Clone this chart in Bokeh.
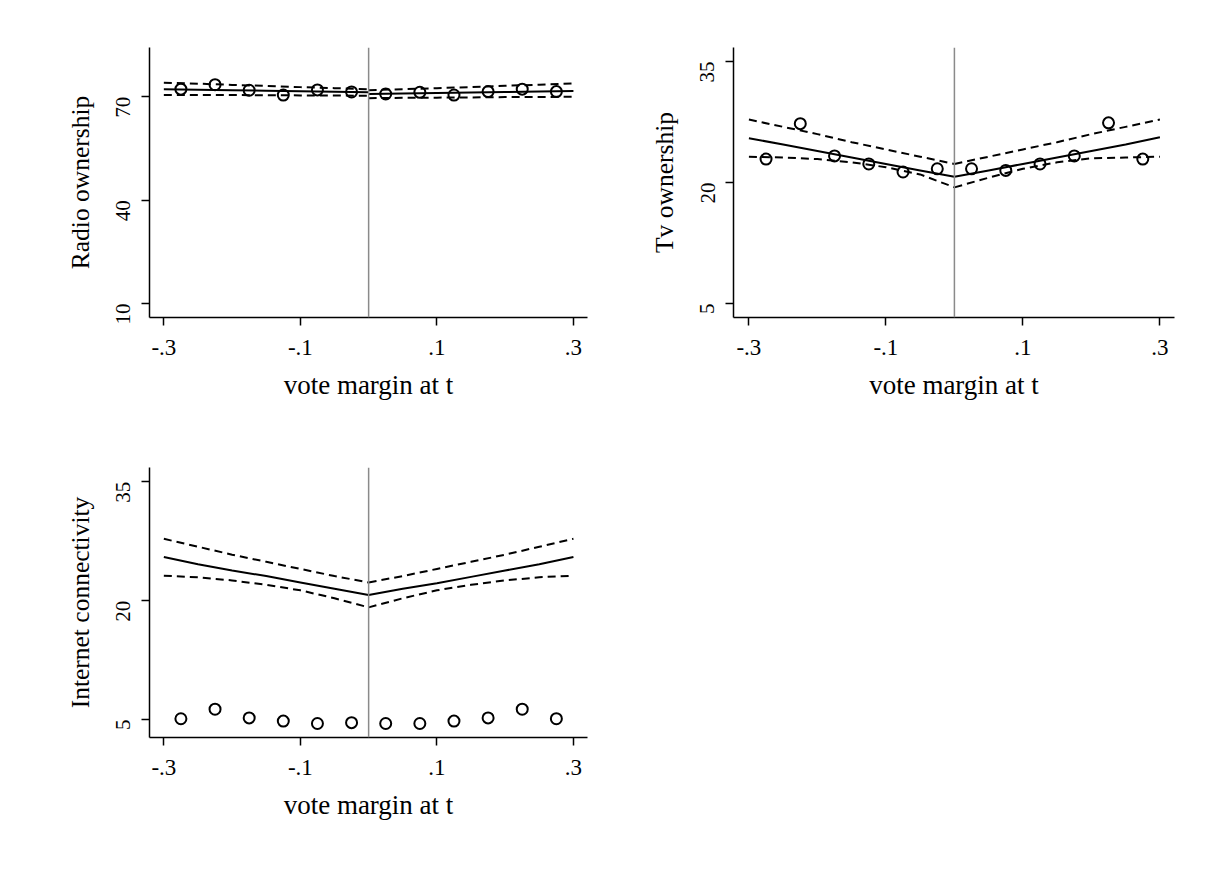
import math
from bokeh.plotting import figure
from bokeh.models import Range1d, FixedTicker, Span, Spacer
from bokeh.layouts import column, row
from bokeh.embed import file_html
from bokeh.resources import INLINE

# ---------------- data ----------------
BINS = [-0.275, -0.225, -0.175, -0.125, -0.075, -0.025, 0.025, 0.075, 0.125, 0.175, 0.225, 0.275]
RADIO_MEANS = [72.2, 73.5, 71.9, 70.5, 72.0, 71.4, 70.8, 71.3, 70.5, 71.5, 72.2, 71.5]
TV_MEANS = [22.9, 27.3, 23.3, 22.3, 21.3, 21.7, 21.7, 21.5, 22.3, 23.3, 27.4, 22.9]
NET_MEANS = [5.1, 6.3, 5.2, 4.8, 4.5, 4.6, 4.5, 4.5, 4.8, 5.2, 6.3, 5.1]

GRID_L = [-0.3, -0.25, -0.2, -0.15, -0.1, -0.05, 0.0]
GRID_R = [0.0, 0.05, 0.1, 0.15, 0.2, 0.25, 0.3]
CUTOFF = 0.0

RADIO_FIT_L = [72.2, 72.05, 71.9, 71.75, 71.6, 71.45, 71.3]
RADIO_HI_L = [74.1, 73.8, 73.45, 73.15, 72.8, 72.5, 72.2]
RADIO_LO_L = [70.5, 70.5, 70.5, 70.45, 70.4, 70.35, 70.3]
RADIO_FIT_R = [70.8, 70.95, 71.1, 71.25, 71.4, 71.55, 71.7]
RADIO_HI_R = [71.9, 72.2, 72.5, 72.8, 73.2, 73.5, 73.9]
RADIO_LO_R = [69.6, 69.7, 69.75, 69.8, 69.9, 69.95, 70.0]

TV_FIT_L = [25.5, 24.7, 23.9, 23.1, 22.3, 21.5, 20.7]
TV_HI_L = [27.8, 26.9, 26.0, 25.0, 24.1, 23.2, 22.3]
TV_LO_L = [23.2, 23.1, 22.9, 22.5, 21.9, 21.0, 19.4]
TV_FIT_R = [20.7, 21.5, 22.3, 23.1, 23.9, 24.7, 25.6]
TV_HI_R = [22.3, 23.2, 24.1, 25.0, 26.0, 26.9, 27.8]
TV_LO_R = [19.4, 20.6, 21.7, 22.5, 23.0, 23.1, 23.2]

NET_FIT_L = [25.5, 24.6, 23.8, 23.1, 22.3, 21.5, 20.7]
NET_HI_L = [27.8, 26.8, 25.8, 24.9, 24.0, 23.1, 22.3]
NET_LO_L = [23.15, 22.95, 22.55, 22.0, 21.3, 20.3, 19.15]
NET_FIT_R = [20.7, 21.5, 22.2, 23.0, 23.8, 24.6, 25.5]
NET_HI_R = [22.3, 23.1, 24.0, 24.9, 25.8, 26.8, 27.8]
NET_LO_R = [19.15, 20.3, 21.3, 22.0, 22.55, 22.95, 23.15]

X_TICKS = [-0.3, -0.1, 0.1, 0.3]
X_TICK_LABELS = ["-.3", "-.1", ".1", ".3"]
RADIO_TICKS = [10, 40, 70]
SHARE_TICKS = [5, 20, 35]
X_TITLE = "vote margin at t"

FONT = "Liberation Serif"


def make_panel(width, height, bl, bt, br, bb, xr, yr, yticks, ytitle,
               means, fl, hl, ll, fr, hr, lr):
    p = figure(width=width, height=height, output_backend="svg", toolbar_location=None,
               x_range=Range1d(*xr), y_range=Range1d(*yr),
               min_border_left=bl, min_border_top=bt, min_border_right=br, min_border_bottom=bb)
    p.outline_line_color = None
    p.xgrid.visible = False
    p.ygrid.visible = False
    p.background_fill_color = "white"
    p.border_fill_color = "white"

    p.add_layout(Span(location=CUTOFF, dimension="height", line_color="#8a8a8a", line_width=1.5))

    dash = "8 5"
    for gx, ys in ((GRID_L, hl), (GRID_L, ll), (GRID_R, hr), (GRID_R, lr)):
        p.line(gx, ys, line_color="black", line_width=2, line_dash=dash)
    p.line(GRID_L, fl, line_color="black", line_width=2)
    p.line(GRID_R, fr, line_color="black", line_width=2)
    p.scatter(BINS, means, marker="circle", size=11, fill_color=None,
              line_color="black", line_width=2)

    xa = p.xaxis[0]
    xa.ticker = FixedTicker(ticks=X_TICKS)
    xa.major_label_overrides = {t: l for t, l in zip(X_TICKS, X_TICK_LABELS)}
    xa.axis_label = X_TITLE
    ya = p.yaxis[0]
    ya.ticker = FixedTicker(ticks=yticks)
    ya.axis_label = ytitle
    ya.major_label_orientation = math.pi / 2

    for ax in (xa, ya):
        ax.minor_tick_line_color = None
        ax.axis_line_color = "black"
        ax.axis_line_width = 1.5
        ax.major_tick_line_color = "black"
        ax.major_tick_line_width = 1.5
        ax.major_tick_out = 8
        ax.major_tick_in = 0
        ax.major_label_text_font = FONT
        ax.axis_label_text_font = FONT
        ax.axis_label_text_font_style = "normal"
        ax.major_label_text_color = "black"
        ax.axis_label_text_color = "black"
    xa.major_label_text_font_size = "23px"
    xa.axis_label_text_font_size = "27px"
    xa.major_label_standoff = 14
    xa.axis_label_standoff = 12
    ya.major_label_text_font_size = "21px"
    ya.axis_label_text_font_size = "25.5px"
    ya.major_label_standoff = 18
    ya.axis_label_standoff = 12
    return p


p1 = make_panel(600, 410, 149, 47, 13, 93, (-0.321, 0.3206), (5.94, 84.3),
                RADIO_TICKS, "Radio ownership", RADIO_MEANS,
                RADIO_FIT_L, RADIO_HI_L, RADIO_LO_L, RADIO_FIT_R, RADIO_HI_R, RADIO_LO_R)
p2 = make_panel(584, 410, 133, 47, 10, 93, (-0.3225, 0.3213), (3.26, 36.74),
                SHARE_TICKS, "Tv ownership", TV_MEANS,
                TV_FIT_L, TV_HI_L, TV_LO_L, TV_FIT_R, TV_HI_R, TV_LO_R)
p3 = make_panel(600, 420, 149, 57, 13, 93, (-0.321, 0.3206), (2.73, 36.8),
                SHARE_TICKS, "Internet connectivity", NET_MEANS,
                NET_FIT_L, NET_HI_L, NET_LO_L, NET_FIT_R, NET_HI_R, NET_LO_R)

layout = column(row(p1, p2), row(p3, Spacer(width=584, height=420)))
open("out.html", "w").write(file_html(layout, INLINE))
